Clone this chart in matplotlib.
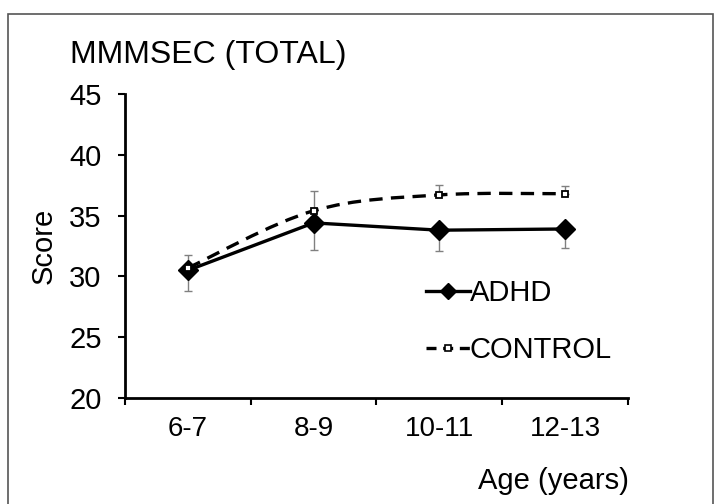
import numpy as np
import matplotlib.pyplot as plt
from matplotlib.path import Path
from matplotlib.patches import PathPatch, Rectangle

plt.rcParams['font.family'] = ['Liberation Sans', 'DejaVu Sans']

# data
age_groups = ['6-7', '8-9', '10-11', '12-13']
adhd_mean = [30.5, 34.4, 33.8, 33.9]
adhd_err = [1.7, 2.2, 1.7, 1.6]        # only lower bar shown
control_mean = [30.7, 35.4, 36.7, 36.8]
control_err = [1.1, 1.6, 0.8, 0.6]     # only upper bar shown

x = np.arange(len(age_groups))

fig = plt.figure(figsize=(7.15, 5.04), dpi=100)
ax = fig.add_axes([0.175, 0.2103, 0.703, 0.6032])

# frame round the whole figure
fig.patches.append(Rectangle((0.011, -0.01), 0.986, 0.982, transform=fig.transFigure,
                             fill=False, edgecolor='#555555', linewidth=1.2))

# error bars (one-sided)
ax.errorbar(x, adhd_mean, yerr=[adhd_err, np.zeros(4)], fmt='none',
            ecolor='#808080', elinewidth=1, capsize=3, capthick=1, zorder=2)
ax.errorbar(x, control_mean, yerr=[np.zeros(4), control_err], fmt='none',
            ecolor='#808080', elinewidth=1, capsize=3, capthick=1, zorder=2)

# smoothed dashed line for control (Excel-style smooth curve)
def smooth_path(xs, ys, t=1/6):
    verts = [(xs[0], ys[0])]
    codes = [Path.MOVETO]
    n = len(xs)
    for i in range(n - 1):
        p0 = (xs[max(i - 1, 0)], ys[max(i - 1, 0)])
        p1 = (xs[i], ys[i])
        p2 = (xs[i + 1], ys[i + 1])
        p3 = (xs[min(i + 2, n - 1)], ys[min(i + 2, n - 1)])
        c1 = (p1[0] + (p2[0] - p0[0]) * t, p1[1] + (p2[1] - p0[1]) * t)
        c2 = (p2[0] - (p3[0] - p1[0]) * t, p2[1] - (p3[1] - p1[1]) * t)
        verts += [c1, c2, p2]
        codes += [Path.CURVE4] * 3
    return Path(verts, codes)

ax.add_patch(PathPatch(smooth_path(x, control_mean), fill=False, edgecolor='black',
                       linewidth=2.4, linestyle=(0, (4, 2.5)), zorder=3))
ax.plot(x, adhd_mean, color='black', linewidth=2.4, marker='D', markersize=10,
        markerfacecolor='black', zorder=4, label='ADHD')
ax.plot(x, control_mean, color='none', marker='s', markersize=5,
        markerfacecolor='white', markeredgecolor='black', markeredgewidth=1.3, zorder=5)

# legend handles
h1, = ax.plot([], [], color='black', linewidth=2.4, marker='D', markersize=8)
h2, = ax.plot([], [], color='black', linewidth=2.4, linestyle=(0, (3, 2)), marker='s',
              markersize=5, markerfacecolor='white', markeredgewidth=1.2)
ax.legend([h1, h2], ['ADHD', 'CONTROL'], frameon=False, fontsize=21,
          handlelength=1.5, handletextpad=0.0, labelspacing=1.0,
          loc='upper left', bbox_to_anchor=(0.575, 0.43), borderaxespad=0)

ax.set_xlim(-0.5, 3.5)
ax.set_ylim(20, 45)
ax.set_yticks([20, 25, 30, 35, 40, 45])
ax.set_xticks(np.arange(-0.5, 4, 1))
ax.set_xticklabels([])
ax.set_xticks(x, minor=True)
ax.set_xticklabels(age_groups, minor=True)
ax.tick_params(axis='x', which='minor', length=0, pad=13, labelsize=20)
ax.tick_params(axis='x', which='major', length=5, width=1.5, direction='out')
ax.tick_params(axis='y', length=5, width=1.5, direction='out', labelsize=21, pad=12)

for s in ['top', 'right']:
    ax.spines[s].set_visible(False)
for s in ['left', 'bottom']:
    ax.spines[s].set_linewidth(2)

ax.set_ylabel('Score', fontsize=21, labelpad=8)
fig.text(0.098, 0.89, 'MMMSEC (TOTAL)', fontsize=23, ha='left', va='center')
fig.text(0.879, 0.045, 'Age (years)', fontsize=21, ha='right', va='center')

fig.savefig('out.png', dpi=100)
